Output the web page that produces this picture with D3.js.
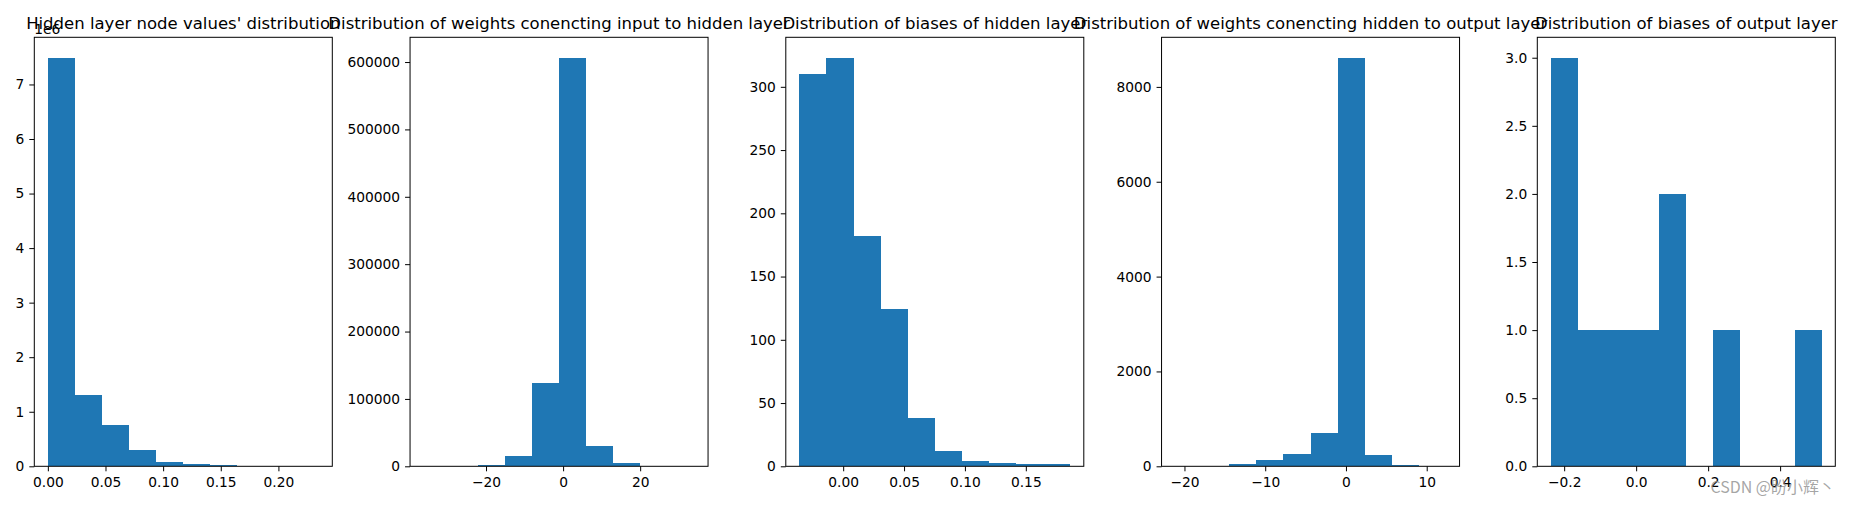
<!DOCTYPE html>
<html>
<head>
<meta charset="utf-8">
<script src="https://cdn.jsdelivr.net/npm/d3@7"></script>
<style>
  html, body { margin: 0; padding: 0; background: #fff; }
  svg { display: block; }
  text { font-family: "DejaVu Sans", sans-serif; }
</style>
</head>
<body>
<svg id="chart" width="1851" height="505"></svg>
<script>
// ---- Data ----
const titles = [
  "Hidden layer node values' distribution",
  "Distribution of weights conencting input to hidden layer",
  "Distribution of biases of hidden layer",
  "Distribution of weights conencting hidden to output layer",
  "Distribution of biases of output layer"
];

// Panel 1: hidden layer node values
const rangeNodes = [0, 0.235];
const countsNodes = [7490000, 1310000, 760000, 300000, 80000, 35000, 18000, 5000, 1500, 500];
const xTicksNodes = [0, 0.05, 0.10, 0.15, 0.20];
const yTicksNodes = [0, 1e6, 2e6, 3e6, 4e6, 5e6, 6e6, 7e6];

// Panel 2: weights input -> hidden
const rangeW1 = [-36.2, 34.1];
const countsW1 = [2, 60, 2000, 15700, 123700, 606400, 30200, 4900, 300, 20];
const xTicksW1 = [-20, 0, 20];
const yTicksW1 = [0, 100000, 200000, 300000, 400000, 500000, 600000];

// Panel 3: biases of hidden layer
const rangeB1 = [-0.036, 0.1865];
const countsB1 = [310, 323, 182, 124, 38, 12, 4, 3, 2, 2];
const xTicksB1 = [0, 0.05, 0.10, 0.15];
const yTicksB1 = [0, 50, 100, 150, 200, 250, 300];

// Panel 4: weights hidden -> output
const rangeW2 = [-21.16, 12.39];
const countsW2 = [2, 5, 50, 130, 260, 700, 8615, 240, 25, 3];
const xTicksW2 = [-20, -10, 0, 10];
const yTicksW2 = [0, 2000, 4000, 6000, 8000];

// Panel 5: biases of output layer
const rangeB2 = [-0.237, 0.5157];
const countsB2 = [3, 1, 1, 1, 2, 0, 1, 0, 0, 1];
const xTicksB2 = [-0.2, 0.0, 0.2, 0.4];
const yTicksB2 = [0, 0.5, 1.0, 1.5, 2.0, 2.5, 3.0];

const watermark = "CSDN @盼小辉丶";

// ---- Panel specs (built from the arrays above) ----
const panels = [
  { title: titles[0], range: rangeNodes, counts: countsNodes, xTicks: xTicksNodes, yTicks: yTicksNodes,
    xFmt: d3.format(".2f"), yFmt: d => d3.format("d")(d / 1e6), offset: "1e6" },
  { title: titles[1], range: rangeW1, counts: countsW1, xTicks: xTicksW1, yTicks: yTicksW1,
    xFmt: d3.format("d"), yFmt: d3.format("d") },
  { title: titles[2], range: rangeB1, counts: countsB1, xTicks: xTicksB1, yTicks: yTicksB1,
    xFmt: d3.format(".2f"), yFmt: d3.format("d") },
  { title: titles[3], range: rangeW2, counts: countsW2, xTicks: xTicksW2, yTicks: yTicksW2,
    xFmt: d3.format("d"), yFmt: d3.format("d") },
  { title: titles[4], range: rangeB2, counts: countsB2, xTicks: xTicksB2, yTicks: yTicksB2,
    xFmt: d3.format(".1f"), yFmt: d3.format(".1f") }
];

// ---- Layout ----
const svg = d3.select("#chart");
const axTop = 37.3, axBottom = 466.3, axWidth = 298, firstLeft = 34.3, step = 375.75;
const barColor = "#1f77b4";
const tickFont = 13.8, titleFont = 16.5;

panels.forEach((p, i) => {
  const left = firstLeft + i * step;
  const right = left + axWidth;
  const [mn, mx] = p.range;
  const R = mx - mn;
  const nb = p.counts.length;
  const x = d3.scaleLinear().domain([mn - 0.05 * R, mx + 0.05 * R]).range([left, right]);
  const y = d3.scaleLinear().domain([0, 1.05 * d3.max(p.counts)]).range([axBottom, axTop]);

  const g = svg.append("g");

  // bars
  const bins = p.counts.map((c, k) => ({ x0: mn + k * R / nb, x1: mn + (k + 1) * R / nb, c }));
  g.selectAll("rect.bar").data(bins.filter(b => b.c > 0)).enter().append("rect")
    .attr("class", "bar")
    .attr("x", b => x(b.x0))
    .attr("width", b => x(b.x1) - x(b.x0))
    .attr("y", b => y(b.c))
    .attr("height", b => axBottom - y(b.c))
    .attr("fill", barColor)
    .attr("shape-rendering", "crispEdges");

  // axes
  const xAxis = d3.axisBottom(x).tickValues(p.xTicks).tickFormat(p.xFmt)
    .tickSize(5).tickSizeOuter(0).tickPadding(5.5);
  const yAxis = d3.axisLeft(y).tickValues(p.yTicks).tickFormat(p.yFmt)
    .tickSize(5).tickSizeOuter(0).tickPadding(5);

  const gx = g.append("g").attr("transform", `translate(0,${axBottom})`).call(xAxis);
  const gy = g.append("g").attr("transform", `translate(${left},0)`).call(yAxis);
  [gx, gy].forEach(a => {
    a.select(".domain").remove();
    a.selectAll("line").attr("stroke", "#000").attr("stroke-width", 1);
    a.selectAll("text").attr("fill", "#000")
      .style("font-family", "'DejaVu Sans', sans-serif").style("font-size", tickFont + "px");
  });

  // frame
  g.append("rect")
    .attr("x", left).attr("y", axTop)
    .attr("width", axWidth).attr("height", axBottom - axTop)
    .attr("fill", "none").attr("stroke", "#000").attr("stroke-width", 1);

  // title
  g.append("text")
    .attr("x", (left + right) / 2).attr("y", 29)
    .attr("text-anchor", "middle")
    .style("font-size", titleFont + "px").attr("fill", "#000")
    .text(p.title);

  // offset text
  if (p.offset) {
    g.append("text")
      .attr("x", left).attr("y", 33.5)
      .attr("text-anchor", "start")
      .style("font-size", tickFont + "px").attr("fill", "#000")
      .text(p.offset);
  }
});

// watermark
svg.append("text")
  .attr("x", 1835).attr("y", 493)
  .attr("text-anchor", "end")
  .style("font-family", "'Noto Sans CJK SC', sans-serif")
  .style("font-size", "16px")
  .attr("fill", "#888").attr("fill-opacity", 0.75)
  .text(watermark);
</script>
</body>
</html>
